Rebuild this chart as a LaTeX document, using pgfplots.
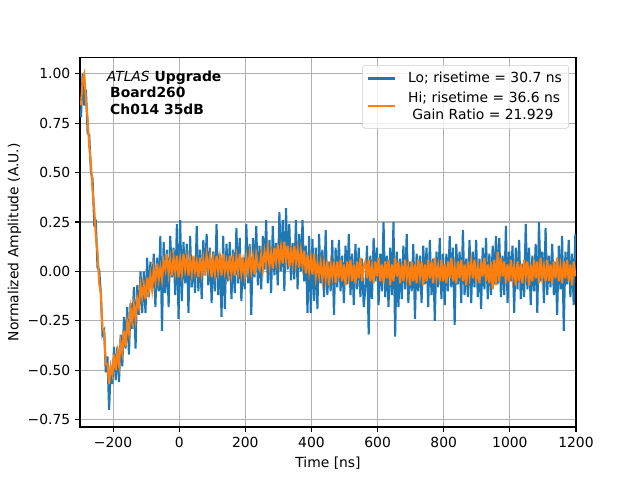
\documentclass[border=0pt]{standalone}
\usepackage{fontspec}
\setmainfont{DejaVu Sans}
\usepackage{pgfplots}
\usepackage{pgfplotstable}
\pgfplotsset{compat=1.18}
\definecolor{c0}{HTML}{1F77B4}
\definecolor{c1}{HTML}{FF7F0E}
\definecolor{gridc}{HTML}{B0B0B0}
\definecolor{legc}{HTML}{CCCCCC}
\pgfplotstableread{
x lo hi
-297 0.78 0.84
-292 1.00 0.97
-287 0.84 1.00
-282 0.92 0.86
-277 0.70 0.78
-272 0.69 0.63
-267 0.50 0.55
-262 0.47 0.41
-257 0.24 0.32
-252 0.25 0.17
-247 0.02 0.10
-242 0.01 -0.06
-237 -0.11 -0.11
-232 -0.32 -0.29
-227 -0.30 -0.30
-222 -0.51 -0.47
-217 -0.43 -0.47
-212 -0.70 -0.57
-207 -0.48 -0.48
-202 -0.57 -0.52
-197 -0.38 -0.42
-192 -0.55 -0.50
-187 -0.38 -0.41
-182 -0.56 -0.47
-177 -0.32 -0.36
-172 -0.48 -0.41
-167 -0.23 -0.30
-162 -0.39 -0.38
-157 -0.18 -0.26
-152 -0.42 -0.31
-147 -0.16 -0.19
-142 -0.29 -0.25
-137 -0.08 -0.17
-132 -0.39 -0.24
-127 -0.07 -0.14
-122 -0.22 -0.18
-117 0.00 -0.07
-112 -0.21 -0.13
-107 0.00 -0.07
-102 -0.21 -0.14
-97 0.07 -0.03
-92 -0.13 -0.10
-87 0.05 -0.02
-82 -0.10 -0.09
-77 0.09 0.01
-72 -0.18 -0.05
-67 0.07 0.04
-62 -0.10 -0.04
-57 0.18 0.02
-52 -0.30 -0.04
-47 0.15 0.05
-42 -0.11 0.01
-37 0.11 0.09
-32 -0.18 -0.01
-27 0.18 0.06
-22 -0.03 -0.02
-17 0.12 0.07
-12 -0.12 0.00
-7 0.24 0.08
-2 -0.24 -0.03
3 0.26 0.06
8 -0.15 -0.01
13 0.15 0.09
18 -0.06 0.01
23 0.14 0.07
28 -0.21 -0.02
33 0.18 0.06
38 -0.08 -0.01
43 0.07 0.08
48 -0.11 0.00
53 0.23 0.05
58 -0.10 -0.03
63 0.11 0.07
68 -0.14 -0.01
73 0.16 0.06
78 -0.02 -0.02
83 0.19 0.08
88 -0.07 0.01
93 0.12 0.07
98 -0.16 -0.03
103 0.10 0.06
108 -0.10 -0.01
113 0.24 0.08
118 -0.12 0.00
123 0.09 0.07
128 -0.23 -0.02
133 0.18 0.09
138 -0.19 0.00
143 0.14 0.05
148 -0.05 -0.01
153 0.15 0.08
158 -0.14 -0.01
163 0.11 0.06
168 -0.11 -0.02
173 0.22 0.07
178 -0.06 0.00
183 0.17 0.09
188 -0.15 -0.01
193 0.07 0.05
198 -0.09 -0.02
203 0.24 0.07
208 -0.06 0.005
213 0.14 0.085
218 -0.22 0.00
223 0.17 0.07
228 -0.03 -0.015
233 0.23 0.085
238 -0.07 0.03
243 0.13 0.01
248 -0.09 0.085
253 0.18 0.01
258 0.01 0.10
263 0.26 0.045
268 -0.06 0.12
273 0.16 0.03
278 -0.11 0.095
283 0.23 0.015
288 -0.02 0.12
293 0.145 0.05
298 -0.07 0.135
303 0.30 0.045
308 0.00 0.12
313 0.26 0.04
318 -0.10 0.15
323 0.32 0.06
328 0.01 0.13
333 0.24 0.025
338 -0.045 0.105
343 0.145 0.04
348 -0.04 0.13
353 0.26 0.045
358 -0.09 0.11
363 0.19 0.02
368 0.00 0.105
373 0.26 0.03
378 -0.05 0.105
383 0.13 -0.01
388 -0.21 0.085
393 0.18 0.00
398 -0.21 0.07
403 0.165 -0.015
408 -0.15 0.09
413 0.12 -0.025
418 -0.19 0.04
423 0.19 -0.02
428 -0.06 0.045
433 0.11 -0.04
438 -0.13 0.04
443 0.21 -0.035
448 -0.12 0.055
453 0.05 -0.07
458 -0.10 0.035
463 0.16 -0.025
468 -0.22 0.05
473 0.12 -0.06
478 -0.08 0.05
483 0.16 -0.035
488 -0.10 0.06
493 0.08 -0.05
498 -0.16 0.035
503 0.13 -0.07
508 -0.065 0.05
513 0.19 -0.025
518 -0.12 0.06
523 0.09 -0.05
528 -0.17 0.035
533 0.14 -0.06
538 -0.09 0.05
543 0.12 -0.035
548 -0.13 0.07
553 0.065 -0.05
558 -0.18 0.025
563 -0.09 0.05
568 0.13 -0.035
573 -0.32 0.06
578 0.08 -0.05
583 -0.14 0.025
588 0.17 -0.06
593 -0.05 0.05
598 0.12 -0.025
603 -0.17 0.07
608 0.09 -0.05
613 -0.10 0.035
618 0.25 -0.06
623 -0.13 0.05
628 0.08 -0.035
633 -0.18 0.06
638 0.12 -0.07
643 -0.12 0.035
648 0.25 -0.05
653 -0.33 0.07
658 0.10 -0.025
663 -0.18 0.05
668 0.065 -0.06
673 -0.14 0.035
678 0.13 -0.05
683 -0.09 0.06
688 0.19 -0.035
693 -0.16 0.025
698 0.05 -0.07
703 -0.10 0.05
708 0.14 -0.05
713 -0.24 0.035
718 0.09 -0.06
723 -0.10 0.06
728 0.08 -0.025
733 -0.16 0.05
738 0.13 -0.07
743 -0.065 0.035
748 0.12 -0.05
753 -0.18 0.06
758 0.16 -0.035
763 -0.12 0.05
768 0.065 -0.06
773 -0.25 0.07
778 0.10 -0.035
783 -0.08 0.025
788 0.17 -0.05
793 -0.14 0.06
798 0.09 -0.05
803 -0.17 0.035
808 0.09 -0.06
813 -0.10 0.05
818 0.18 -0.035
823 -0.08 0.07
828 0.12 -0.05
833 -0.27 0.025
838 0.14 -0.06
843 -0.065 0.05
848 0.10 -0.035
853 -0.16 0.06
858 0.21 -0.05
863 -0.12 0.035
868 0.065 -0.07
873 -0.13 0.05
878 0.16 -0.025
883 -0.16 0.05
888 0.10 -0.035
893 -0.08 0.06
898 0.16 -0.05
903 -0.13 0.025
908 0.065 -0.06
913 -0.19 0.05
918 0.12 -0.025
923 -0.09 0.07
928 0.17 -0.05
933 -0.14 0.035
938 0.09 -0.06
943 -0.12 0.05
948 0.13 -0.09
953 -0.065 0.06
958 0.18 -0.07
963 -0.065 0.10
968 0.17 -0.05
973 -0.13 0.07
978 0.08 -0.025
983 -0.12 0.05
988 0.23 -0.06
993 -0.16 0.035
998 0.10 -0.05
1003 -0.05 0.06
1008 0.13 -0.035
1013 -0.21 0.025
1018 0.12 -0.07
1023 -0.09 0.05
1028 0.16 -0.05
1033 -0.14 0.035
1038 0.04 -0.06
1043 -0.13 0.06
1048 0.24 -0.025
1053 -0.09 0.05
1058 0.12 -0.07
1063 -0.17 0.035
1068 0.08 -0.05
1073 -0.10 0.06
1078 0.14 -0.035
1083 -0.21 0.05
1088 0.25 -0.06
1093 -0.05 0.07
1098 0.10 -0.035
1103 -0.16 0.025
1108 0.22 -0.05
1113 -0.12 0.06
1118 0.08 -0.05
1123 -0.08 0.035
1128 0.14 -0.06
1133 -0.12 0.05
1138 0.05 -0.035
1143 -0.22 0.07
1148 0.13 -0.05
1153 -0.09 0.025
1158 0.18 -0.06
1163 -0.30 0.05
1168 0.10 -0.035
1173 -0.065 0.06
1178 0.16 -0.05
1183 -0.13 0.035
1188 0.09 -0.07
1193 -0.17 0.05
1198 0.19 -0.025
}\data

\begin{document}
\begin{tikzpicture}
\begin{axis}[
  scale only axis, width=357.12pt, height=266.1pt,
  at={(0,0)}, anchor=south west,
  xmin=-300, xmax=1200, ymin=-0.787, ymax=1.083,
  xtick={-200,0,200,400,600,800,1000,1200},
  xticklabels={−200,0,200,400,600,800,1000,1200},
  ytick={-0.75,-0.5,-0.25,0,0.25,0.5,0.75,1},
  yticklabels={−0.75,−0.50,−0.25,0.00,0.25,0.50,0.75,1.00},
  tick align=outside, major tick length=3.5pt,
  xtick pos=bottom, ytick pos=left,
  tick style={black, line width=0.8pt},
  axis line style={line width=0.8pt},
  grid=major, grid style={gridc, line width=0.8pt},
  ticklabel style={font=\fontsize{10}{12}\selectfont},
  label style={font=\fontsize{10}{12}\selectfont},
  xlabel={Time [ns]}, ylabel={Normalized Amplitude (A.U.)},
  ylabel style={yshift=-2.2pt},
  legend style={at={(0.986,0.979)}, anchor=north east, draw=legc, rounded corners=2pt,
    fill=white, fill opacity=0.8, text opacity=1, draw opacity=1,
    font=\fontsize{10}{12}\selectfont, inner xsep=3pt, inner ysep=3pt,
    nodes={inner sep=2pt, text depth=},
    row sep=0.5pt, column sep=6.5pt},
  legend cell align=left,
  legend image code/.code={\draw[#1] (0pt,0pt) -- (20pt,0pt);},
]
\addplot[c0, line width=1.5pt] table[x=x, y=lo] {\data};
\addlegendentry{Lo; risetime = 30.7 ns}
\addplot[c1, line width=1.5pt] table[x=x, y=hi] {\data};
\addlegendentry{\raisebox{0pt}[\height][\dimexpr\depth-2pt\relax]{\begin{tabular}{@{}l@{}}Hi; risetime = 36.6 ns\\\hspace*{3pt}Gain Ratio = 21.929\end{tabular}}}
\node[anchor=base west, inner sep=0pt, font=\fontsize{10}{12}\selectfont\bfseries]
  at (rel axis cs:0.0534,0.936)
  {\begin{tabular}[t]{@{}l@{}}{\mdseries\itshape ATLAS} Upgrade\\\hspace*{2.5pt}Board260\\\hspace*{2.5pt}Ch014 35dB\end{tabular}};
\end{axis}
\path[use as bounding box] (-57.6pt,-38.16pt) rectangle (403.2pt,307.44pt);
\end{tikzpicture}
\end{document}
